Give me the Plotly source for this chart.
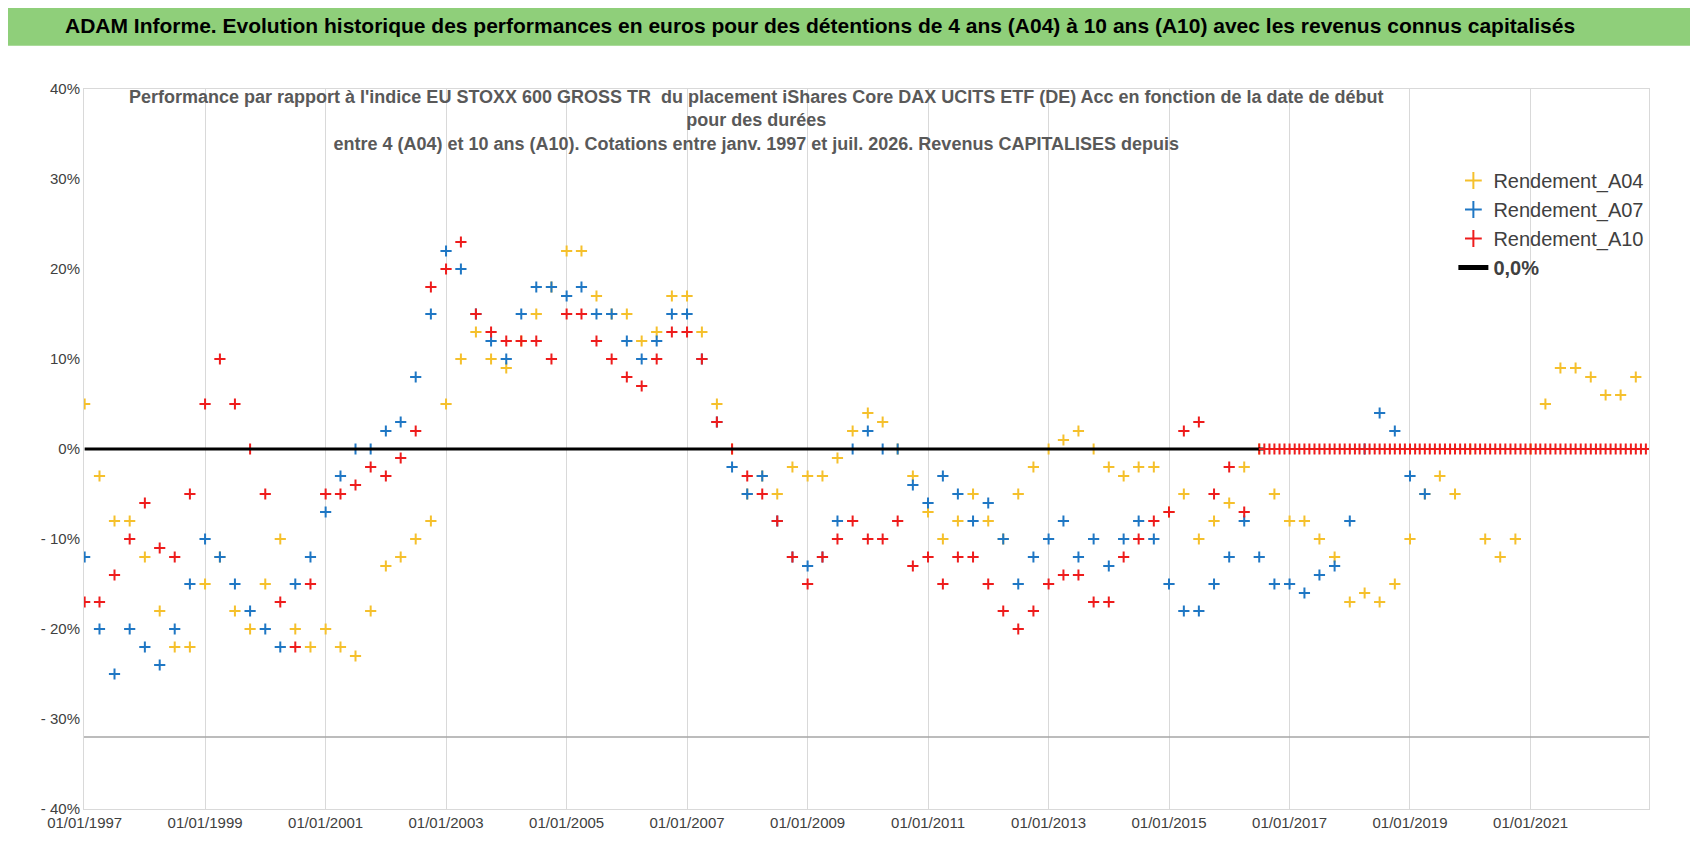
import pandas as pd
import plotly.graph_objects as go

# Rendements trimestriels (%), départ 01/01/1997
A04 = [5, -3, -8, -8,  -12, -18, -22, -22,  -15, -12, -18, -20,  -15, -10, -20, -22,
       -20, -22, -23, -18,  -13, -12, -10, -8,  5, 10, 13, 10,  9, 12, 15, 18,
       22, 22, 17, 15,  15, 12, 13, 17,  17, 13, 5, 0,  -5, -3, -5, -2,
       -3, -3, -1, 2,  4, 3, 0, -3,  -7, -10, -8, -5,  -8, -10, -5, -2,
       0, 1, 2, 0,  -2, -3, -2, -2,  -7, -5, -10, -8,  -6, -2, 0, -5,
       -8, -8, -10, -12,  -17, -16, -17, -15,  -10, -5, -3, -5,  0, -10, -12, -10,
       0, 5, 9, 9,  8, 6, 6, 8]
A07 = [-12, -20, -25, -20,  -22, -24, -20, -15,  -10, -12, -15, -18,  -20, -22, -15, -12,
       -7, -3, 0, 0,  2, 3, 8, 15,  22, 20, 15, 12,  10, 15, 18, 18,
       17, 18, 15, 15,  12, 10, 12, 15,  15, 10, 3, -2,  -5, -3, -8, -12,
       -13, -12, -8, 0,  2, 0, 0, -4,  -6, -3, -5, -8,  -6, -10, -15, -12,
       -10, -8, -12, -10,  -13, -10, -8, -10,  -15, -18, -18, -15,  -12, -8, -12, -15,
       -15, -16, -14, -13,  -8, 0, 4, 2,  -3, -5]
A10 = [-17, -17, -14, -10,  -6, -11, -12, -5,  5, 10, 5, 0,  -5, -17, -22, -15,
       -5, -5, -4, -2,  -3, -1, 2, 18,  20, 23, 15, 13,  12, 12, 12, 10,
       15, 15, 12, 10,  8, 7, 10, 13,  13, 10, 3, 0,  -3, -5, -8, -12,
       -15, -12, -10, -8,  -10, -10, -8, -13,  -12, -15, -12, -12,  -15, -18, -20, -18,
       -15, -14, -14, -17,  -17, -12, -10, -8,  -7, 2, 3, -5,  -2, -7, 0]
# A10 sans données après mi-2016 : valeurs à 0 (mensuelles)
A10_ZERO_DEBUT, A10_ZERO_N = "2016-08-01", 77
A10_ZERO = [0] * A10_ZERO_N

Y_TICKS = [40, 30, 20, 10, 0, -10, -20, -30, -40]
Y_LABELS = ["40%", "30%", "20%", "10%", "0%", "- 10%", "- 20%", "- 30%", "- 40%"]

d04 = pd.date_range("1997-01-01", periods=len(A04), freq="QS")
d07 = pd.date_range("1997-01-01", periods=len(A07), freq="QS")
d10 = pd.date_range("1997-01-01", periods=len(A10), freq="QS")
dz = pd.date_range(A10_ZERO_DEBUT, periods=A10_ZERO_N, freq="MS")

fig = go.Figure()
mk = lambda c: dict(symbol="cross-thin", size=8, line=dict(color=c, width=2), color=c)
fig.add_trace(go.Scatter(x=d04, y=A04, mode="markers", marker=mk("#f5c02c"), name="Rendement_A04"))
fig.add_trace(go.Scatter(x=d07, y=A07, mode="markers", marker=mk("#1f77c4"), name="Rendement_A07"))
fig.add_trace(go.Scatter(x=d10, y=A10, mode="markers", marker=mk("#ee1c1c"), name="Rendement_A10"))
fig.add_trace(go.Scatter(x=[pd.Timestamp("1997-01-01"), pd.Timestamp("2016-08-01")], y=[0, 0],
                         mode="lines", line=dict(color="black", width=3), name="<b>0,0%</b>"))
fig.add_trace(go.Scatter(x=dz, y=A10_ZERO, mode="markers", marker=mk("#ee1c1c"), showlegend=False))

fig.add_shape(type="rect", xref="paper", yref="paper", x0=-0.05, x1=1.04, y0=1.06, y1=1.115,
              fillcolor="#8fcf7a", line=dict(width=0), layer="below")
fig.add_shape(type="line", xref="paper", yref="y", x0=0, x1=1, y0=-32, y1=-32,
              line=dict(color="#a6a6a6", width=1.5))
fig.add_annotation(xref="paper", yref="paper", x=0.47, y=1.088, yanchor="middle", showarrow=False,
                   text="<b>ADAM Informe. Evolution historique des performances en euros pour des détentions de 4 ans (A04) à 10 ans (A10) avec les revenus connus capitalisés</b>",
                   font=dict(size=21, color="black"))
fig.add_annotation(xref="paper", yref="paper", x=0.43, y=1.005, yanchor="top", showarrow=False,
                   text="<b>Performance par rapport à l'indice EU STOXX 600 GROSS TR  du placement iShares Core DAX UCITS ETF (DE) Acc en fonction de la date de début<br>pour des durées<br>entre 4 (A04) et 10 ans (A10). Cotations entre janv. 1997 et juil. 2026. Revenus CAPITALISES depuis</b>",
                   font=dict(size=18, color="#595959"))

fig.update_layout(
    width=1698, height=856, plot_bgcolor="white", paper_bgcolor="white",
    margin=dict(l=76, r=57, t=81, b=55),
    font=dict(family="Liberation Sans, Arial", color="#404040"),
    showlegend=True,
    legend=dict(x=0.875, y=0.9, font=dict(size=20, color="#404040"), itemsizing="constant",
                tracegroupgap=14, bgcolor="rgba(0,0,0,0)"),
    xaxis=dict(range=[pd.Timestamp("1996-12-28"), pd.Timestamp("2022-12-20")],
               tickformat="%d/%m/%Y", dtick="M24", tick0="1997-01-01",
               showgrid=True, gridcolor="#d9d9d9", ticks="", tickfont=dict(size=15),
               showline=True, linecolor="#d9d9d9", mirror=True),
    yaxis=dict(range=[-40, 40], tickvals=Y_TICKS, ticktext=Y_LABELS, showgrid=False,
               zeroline=False, tickfont=dict(size=15), showline=True, linecolor="#d9d9d9", mirror=True),
)
fig.write_html("out.html")
